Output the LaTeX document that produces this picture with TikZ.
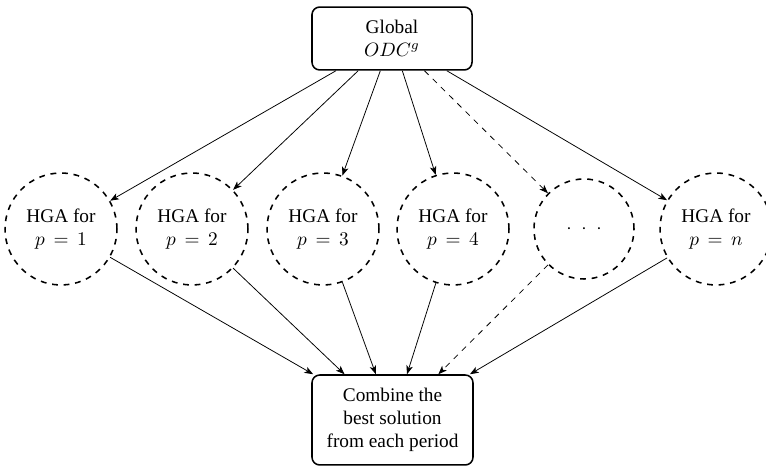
\documentclass[tikz,border=0pt]{standalone}
\usepackage{fontspec}
\setmainfont{Liberation Serif}
\usetikzlibrary{arrows.meta}
\begin{document}
\begin{tikzpicture}[x=0.518pt,y=-0.518pt,
  box/.style={draw,thick,rounded corners=4pt,align=center,inner sep=0pt},
  hga/.style={draw,thick,dashed,circle,align=center,inner sep=0pt,minimum size=58pt},
  hgasmall/.style={hga,minimum size=51.8pt},
  link/.style={-{Stealth[length=4.5pt,width=3.4pt,inset=1.2pt]}},
  linkdash/.style={link,dashed}]
\useasboundingbox (0,0) rectangle (766,467);

\node[box,minimum width=82.9pt,minimum height=32.6pt] (glob) at (392,38.5)
  {Global\\$ODC^g$};

\node[hga] (h1) at (61,229) {HGA for\\$p\,=\,1$};
\node[hga] (h2) at (192,229) {HGA for\\$p\,=\,2$};
\node[hga] (h3) at (323,229) {HGA for\\$p\,=\,3$};
\node[hga] (h4) at (453,229) {HGA for\\$p\,=\,4$};
\node[hgasmall] (hd) at (584,229) {${\cdot}\enspace{\cdot}\enspace{\cdot}$};
\node[hga] (hn) at (716,229) {HGA for\\$p\,=\,n$};

\node[box,minimum width=83.4pt,minimum height=46.6pt] (comb) at (392.5,420)
  {Combine the\\best solution\\from each period};

\foreach \n in {h1,h2,h3,h4,hn} {
  \draw[link] (glob) -- (\n);
  \draw[link] (\n) -- (comb);
}
\draw[linkdash] (glob) -- (hd);
\draw[linkdash] (hd) -- (comb);
\end{tikzpicture}
\end{document}
